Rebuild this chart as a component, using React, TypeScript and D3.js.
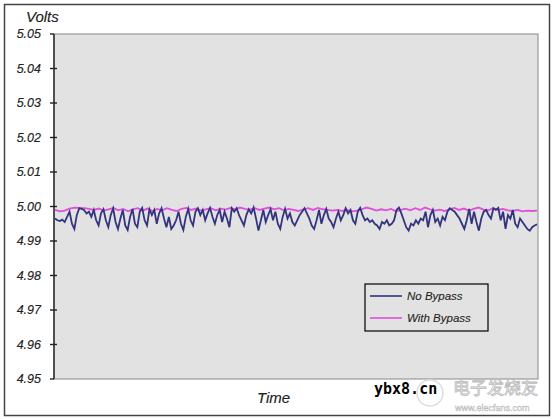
import React from "react";
import * as d3 from "d3";

const yTicks = [4.95, 4.96, 4.97, 4.98, 4.99, 5.0, 5.01, 5.02, 5.03, 5.04, 5.05];
const seriesNames = ["No Bypass", "With Bypass"];

const noBypass = [
  4.9965, 4.9960, 4.9958, 4.9962, 4.9955, 4.9970, 4.9985, 4.9950, 4.9935, 4.9975, 4.9995, 4.9993, 4.9990, 4.9980, 4.9985, 4.9970, 4.9990, 4.9960, 4.9945, 4.9980, 4.9992, 4.9960, 4.9940, 4.9975, 4.9995, 4.9955, 4.9935, 4.9965, 4.9990, 4.9945, 4.9932, 4.9970, 4.9993, 4.9950, 4.9940, 4.9985, 4.9996, 4.9960, 4.9945, 4.9992, 4.9975, 4.9990, 4.9950, 4.9980, 4.9995, 4.9965, 4.9940, 4.9970, 4.9935, 4.9945,
  4.9960, 4.9985, 4.9950, 4.9932, 4.9970, 4.9993, 4.9960, 4.9945, 4.9985, 4.9995, 4.9975, 4.9990, 4.9960, 4.9980, 4.9996, 4.9970, 4.9950, 4.9975, 4.9990, 4.9955, 4.9985, 4.9965, 4.9940, 4.9995, 4.9985, 4.9995, 4.9975, 4.9960, 4.9945, 4.9975, 4.9992, 4.9980, 4.9997, 4.9965, 4.9930, 4.9960, 4.9990, 4.9955, 4.9975, 4.9992, 4.9960, 4.9985, 4.9950, 4.9935, 4.9970, 4.9993, 4.9965, 4.9980, 4.9955, 4.9945,
  4.9960, 4.9975, 4.9985, 4.9995, 4.9980, 4.9965, 4.9945, 4.9935, 4.9960, 4.9990, 4.9950, 4.9975, 4.9993, 4.9965, 4.9955, 4.9940, 4.9965, 4.9985, 4.9960, 4.9975, 4.9995, 4.9980, 4.9990, 4.9960, 4.9950, 4.9985, 4.9996, 4.9975, 4.9960, 4.9965, 4.9955, 4.9960, 4.9950, 4.9945, 4.9935, 4.9955, 4.9950, 4.9960, 4.9945, 4.9950, 4.9960, 4.9990, 4.9997, 4.9980, 4.9960, 4.9940, 4.9930, 4.9950, 4.9945, 4.9960,
  4.9950, 4.9965, 4.9960, 4.9985, 4.9940, 4.9975, 4.9990, 4.9955, 4.9965, 4.9945, 4.9970, 4.9960, 4.9985, 4.9995, 4.9990, 4.9985, 4.9975, 4.9965, 4.9950, 4.9935, 4.9960, 4.9993, 4.9950, 4.9985, 4.9955, 4.9930, 4.9965, 4.9985, 4.9990, 4.9975, 4.9965, 4.9995, 4.9990, 4.9996, 4.9960, 4.9985, 4.9935, 4.9975, 4.9965, 4.9990, 4.9950, 4.9940, 4.9965, 4.9955, 4.9945, 4.9935, 4.9930, 4.9940, 4.9945, 4.9948,
];

const withBypass = [
  4.9990, 4.9986, 4.9988, 4.9994, 4.9997, 4.9996, 4.9995, 4.9993, 4.9990, 4.9994, 4.9988, 4.9992, 4.9996, 4.9989, 4.9993, 4.9986, 4.9992, 4.9995, 4.9988, 4.9994,
  4.9987, 4.9993, 4.9989, 4.9995, 4.9990, 4.9987, 4.9993, 4.9996, 4.9990, 4.9994, 4.9988, 4.9992, 4.9995, 4.9989, 4.9994, 4.9991, 4.9996, 4.9992, 4.9997, 4.9993,
  4.9991, 4.9995, 4.9990, 4.9994, 4.9997, 4.9992, 4.9995, 4.9989, 4.9993, 4.9990, 4.9987, 4.9992, 4.9995, 4.9990, 4.9996, 4.9992, 4.9990, 4.9988, 4.9990, 4.9987,
  4.9990, 4.9986, 4.9988, 4.9992, 4.9997, 4.9993, 4.9988, 4.9992, 4.9989, 4.9993, 4.9986, 4.9990, 4.9994, 4.9989, 4.9995, 4.9990, 4.9997, 4.9992, 4.9988, 4.9991,
  4.9987, 4.9992, 4.9996, 4.9990, 4.9994, 4.9988, 4.9993, 4.9997, 4.9991, 4.9989, 4.9995, 4.9990, 4.9993, 4.9989, 4.9987, 4.9990, 4.9986, 4.9988, 4.9987, 4.9988,
];

const W = 554;
const H = 419;
const plotL = 54;
const plotR = 538;
const plotT = 34;
const plotB = 379;

export default function App() {
  const y = d3.scaleLinear().domain([4.95, 5.05]).range([plotB, plotT]);
  const xA = d3.scaleLinear().domain([0, noBypass.length - 1]).range([plotL + 1, plotR - 1]);
  const xB = d3.scaleLinear().domain([0, withBypass.length - 1]).range([plotL + 1, plotR - 1]);
  const lineA = d3.line<number>().x((_, i) => xA(i)).y((d) => y(d));
  const lineB = d3.line<number>().x((_, i) => xB(i)).y((d) => y(d));
  const font = "Arial, 'Liberation Sans', sans-serif";
  const colA = "#33337f";
  const colB = "#e04ee0";

  return (
    <svg width={W} height={H} style={{ position: "absolute", left: 0, top: 0, background: "#fff" }}>
      <rect x={0} y={0} width={W} height={H} fill="#fff" />
      <rect x={4.5} y={4.5} width={545} height={411} fill="#fff" stroke="#444" strokeWidth={1.5} />
      <rect x={plotL} y={plotT} width={plotR - plotL} height={plotB - plotT} fill="#e2e2e2" stroke="#9a9a9a" strokeWidth={1.2} />
      <line x1={plotL} x2={plotL} y1={plotT} y2={plotB} stroke="#222" strokeWidth={1.4} />
      {yTicks.map((t, i) => (
        <g key={i}>
          <line x1={plotL - 4} x2={i === 0 || i === yTicks.length - 1 ? plotL : plotL + 3} y1={y(t)} y2={y(t)} stroke="#222" strokeWidth={1.4} />
          <text x={41} y={y(t) + 4} textAnchor="end" fontFamily={font} fontStyle="italic" fontSize={12.5} fill="#222" stroke="#222" strokeWidth={0.15}>
            {t.toFixed(2)}
          </text>
        </g>
      ))}
      <text x={26} y={22} fontFamily={font} fontStyle="italic" fontSize={15} fill="#222" stroke="#222" strokeWidth={0.15}>Volts</text>
      <text x={257} y={403} fontFamily={font} fontStyle="italic" fontSize={15} fill="#222" stroke="#222" strokeWidth={0.15}>Time</text>

      <path d={lineB(withBypass) || ""} fill="none" stroke={colB} strokeWidth={1.8} />
      <path d={lineA(noBypass) || ""} fill="none" stroke={colA} strokeWidth={1.8} />

      <rect x={365} y={284} width={123} height={47} fill="#e2e2e2" stroke="#111" strokeWidth={1.3} />
      <line x1={370} x2={402} y1={296} y2={296} stroke={colA} strokeWidth={1.6} />
      <line x1={370} x2={402} y1={318} y2={318} stroke={colB} strokeWidth={1.6} />
      <text x={407} y={300} fontFamily={font} fontStyle="italic" fontSize={11.5} fill="#222" stroke="#222" strokeWidth={0.1}>{seriesNames[0]}</text>
      <text x={407} y={322} fontFamily={font} fontStyle="italic" fontSize={11.5} fill="#222" stroke="#222" strokeWidth={0.1}>{seriesNames[1]}</text>

      <text x={374} y={394} fontFamily="'DejaVu Sans Mono', monospace" fontWeight="bold" fontSize={15} fill="#000">ybx8.cn</text>
      <circle cx={430} cy={393} r={13} fill="none" stroke="#ddd" strokeWidth={1.5} />
      <text x={453} y={394} fontFamily="'Noto Sans CJK SC', sans-serif" fontSize={17} fill="#fff" stroke="#bbb" strokeWidth={0.8}>电子发烧友</text>
      <text x={455} y={411} fontFamily={font} fontSize={9} fill="#fff" stroke="#bbb" strokeWidth={0.5}>www.elecfans.com</text>
    </svg>
  );
}
